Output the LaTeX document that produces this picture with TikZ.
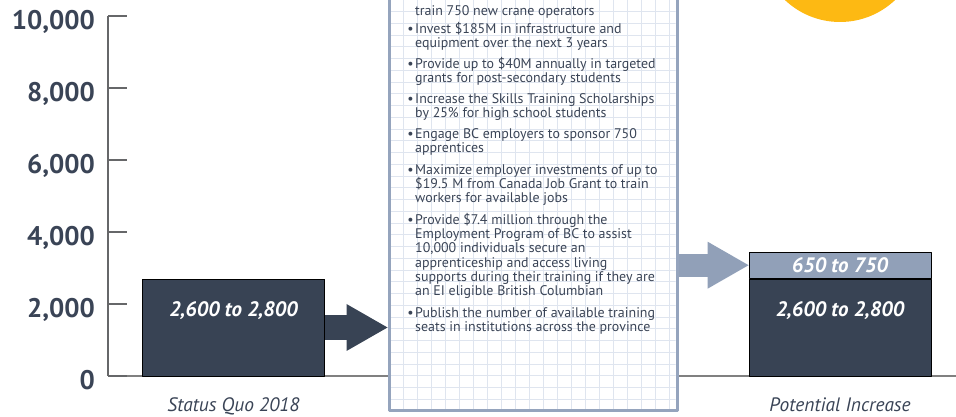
\documentclass[tikz,border=0pt]{standalone}
\usepackage{fontspec}
\setmainfont{PT Sans}
\usetikzlibrary{arrows.meta,positioning}
\definecolor{barcol}{HTML}{384354}
\definecolor{inkcol}{HTML}{3A4456}
\definecolor{upcol}{HTML}{91A0B8}
\definecolor{framecol}{HTML}{95A4BD}
\definecolor{gridcol}{HTML}{DFE5EF}
\definecolor{suncol}{HTML}{FDB913}
\definecolor{axiscol}{HTML}{666769}
\begin{document}
\begin{tikzpicture}[>=latex,line join=bevel,
  bar/.style={draw=black,line width=0.8bp,fill=barcol,inner sep=0pt,minimum width=182bp},
  barlabel/.style={text=white,font=\fontsize{21}{24}\selectfont\bfseries\itshape,inner sep=0pt},
  ticklabel/.style={text=inkcol,font=\fontsize{27}{30}\selectfont\bfseries,anchor=base east,inner sep=0pt},
  caption/.style={text=inkcol,font=\fontsize{19.5}{22}\selectfont\itshape,inner sep=0pt},
  item/.style={text=inkcol,font=\fontsize{14}{14.3}\selectfont,align=left,anchor=base west,inner sep=0pt},
  planbox/.style={draw=framecol,line width=3bp,fill=white,minimum width=288bp,minimum height=432bp,inner sep=0pt},
  axisline/.style={draw=axiscol,line width=1.4bp},
  fatarrow/.style={line width=#1,-{Triangle[length=41bp,width=47bp,line width=0pt]}},
  ]
\useasboundingbox (0bp,0bp) rectangle (956bp,417bp);
\clip (0bp,0bp) rectangle (956bp,417bp);
%%
  % Sun
  \fill[suncol] (840bp,475bp) circle (80bp);
  % Axis
  \draw[axisline,draw=gray] (108bp,41bp) -- (956bp,41bp);
  \draw[axisline] (108bp,41bp) -- (108bp,401bp);
  \foreach \k/\lab in {0/0,1/{2,000},2/{4,000},3/{6,000},4/{8,000},5/{10,000}} {
    \pgfmathsetmacro\ty{41+72*\k}
    \pgfmathsetmacro\tb{\ty-13.5}
    \draw[axisline] (108bp,\ty bp) -- (127bp,\ty bp);
    \node[ticklabel] (tick\k) at (95bp,\tb bp) {\lab};
  }
  % Node: Status Quo
  \node[bar,minimum height=97bp] (quo) at (233.5bp,89.5bp) {};
  \node[barlabel,below=23bp of quo.north] (quolabel) {2,600 to 2,800};
  \node[caption,below=21bp of quo] (quocap) {Status Quo 2018};
  % Node: Plan
  \node[planbox] (plan) at (533bp,222bp) {};
\begin{scope}
  \clip ([shift={(3bp,3bp)}]plan.south west) rectangle ([shift={(-3bp,-3bp)}]plan.north east);
  \draw[gridcol,line width=0.8bp,xstep=14bp,ystep=11.75bp,shift={([shift={(1.5bp,1.5bp)}]plan.south west)}] (0bp,0bp) grid (300bp,440bp);
\end{scope}
  \draw[framecol,line width=3bp] (plan.south west) ++(1.5bp,1.5bp) rectangle ([shift={(-1.5bp,-1.5bp)}]plan.north east);
  % Node: Items (base = last line)
  \node[item] (item1) at (415bp,401bp) {train 750 new crane operators};
  \node[item] (item2) at (415bp,369.7bp) {\llap{\textbullet\hspace{1.5bp}}Invest \$185M in infrastructure and\\equipment over the next 3 years};
  \node[item] (item3) at (415bp,334.7bp) {\llap{\textbullet\hspace{1.5bp}}Provide up to \$40M annually in targeted\\grants for post-secondary students};
  \node[item] (item4) at (415bp,299.7bp) {\llap{\textbullet\hspace{1.5bp}}Increase the Skills Training Scholarships\\by 25\% for high school students};
  \node[item] (item5) at (415bp,264.7bp) {\llap{\textbullet\hspace{1.5bp}}Engage BC employers to sponsor 750\\apprentices};
  \node[item] (item6) at (415bp,214.4bp) {\llap{\textbullet\hspace{1.5bp}}Maximize employer investments of up to\\\$19.5 M from Canada Job Grant to train\\workers for available jobs};
  \node[item] (item7) at (415bp,121.5bp) {\llap{\textbullet\hspace{1.5bp}}Provide \$7.4 million through the\\Employment Program of BC to assist\\10,000 individuals secure an\\apprenticeship and access living\\supports during their training if they are\\an EI eligible British Columbian};
  \node[item] (item8) at (415bp,85.7bp) {\llap{\textbullet\hspace{1.5bp}}Publish the number of available training\\seats in institutions across the province};
  % Node: Potential Increase
  \node[bar,minimum height=97bp] (pot) at (840bp,89.5bp) {};
  \node[bar,fill=upcol,minimum height=26bp,above=0pt of pot] (up) {};
  \node[barlabel] (uplabel) at (up) {650 to 750};
  \node[barlabel,below=23bp of pot.north] (potlabel) {2,600 to 2,800};
  \node[caption,below=21bp of pot] (potcap) {Potential Increase};
  % Edge: quo -> plan
  \draw[barcol,fatarrow=25bp] (quo.east) -- (plan.west |- quo.east);
  % Edge: plan -> up
  \draw[upcol,fatarrow=23bp] (plan.east |- up.west) -- (up.west);
%
\end{tikzpicture}
\end{document}
